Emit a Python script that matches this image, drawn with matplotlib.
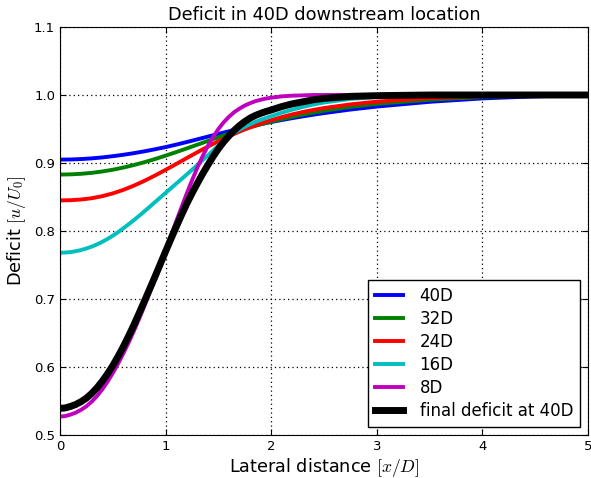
import matplotlib
matplotlib.use('Agg')
import matplotlib.pyplot as plt

# lateral positions x/D (coarse grid for the flat curves, finer for the steep ones)
x_wide = [0.0, 0.1, 0.2, 0.3, 0.4, 0.5, 0.6, 0.7, 0.8, 0.9, 1.0, 1.1, 1.2, 1.3,
          1.4, 1.5, 1.6, 1.7, 1.8, 1.9, 2.0, 2.1, 2.2, 2.3, 2.4, 2.5, 2.75, 3.0,
          3.5, 4.0, 4.5, 5.0]
x_fine = [0.0, 0.05, 0.1, 0.15, 0.2, 0.25, 0.3, 0.35, 0.4, 0.45, 0.5, 0.55, 0.6,
          0.65, 0.7, 0.75, 0.8, 0.85, 0.9, 0.95, 1.0, 1.05, 1.1, 1.15, 1.2, 1.25,
          1.3, 1.35, 1.4, 1.45, 1.5, 1.55, 1.6, 1.65, 1.7, 1.75, 1.8, 1.85, 1.9,
          1.95, 2.0, 2.1, 2.2, 2.3, 2.4, 2.5, 2.75, 3.0, 3.5, 4.0, 4.5, 5.0]

deficit_40D = [0.9050, 0.9052, 0.9058, 0.9068, 0.9082, 0.9100, 0.9121, 0.9145, 0.9172,
               0.9202, 0.9234, 0.9270, 0.9308, 0.9348, 0.9388, 0.9428, 0.9467, 0.9504,
               0.9539, 0.9572, 0.9603, 0.9632, 0.9660, 0.9686, 0.9711, 0.9734, 0.9786,
               0.9830, 0.9900, 0.9950, 0.9980, 1.0000]
deficit_32D = [0.8830, 0.8833, 0.8841, 0.8855, 0.8875, 0.8901, 0.8933, 0.8970, 0.9012,
               0.9058, 0.9108, 0.9160, 0.9214, 0.9269, 0.9324, 0.9378, 0.9430, 0.9479,
               0.9525, 0.9568, 0.9608, 0.9645, 0.9680, 0.9712, 0.9741, 0.9768, 0.9826,
               0.9870, 0.9930, 0.9970, 0.9990, 1.0000]
deficit_24D = [0.8450, 0.8453, 0.8463, 0.8482, 0.8512, 0.8553, 0.8605, 0.8667, 0.8738,
               0.8816, 0.8899, 0.8985, 0.9072, 0.9158, 0.9241, 0.9320, 0.9394, 0.9462,
               0.9524, 0.9580, 0.9630, 0.9675, 0.9715, 0.9750, 0.9781, 0.9808, 0.9862,
               0.9902, 0.9955, 0.9982, 0.9995, 1.0000]
deficit_16D = [0.7680, 0.7683, 0.7690, 0.7703, 0.7720, 0.7743, 0.7770, 0.7803, 0.7840,
               0.7883, 0.7930, 0.7983, 0.8040, 0.8099, 0.8160, 0.8224, 0.8290, 0.8357,
               0.8425, 0.8493, 0.8560, 0.8628, 0.8695, 0.8763, 0.8830, 0.8900, 0.8970,
               0.9040, 0.9110, 0.9185, 0.9260, 0.9328, 0.9390, 0.9443, 0.9490, 0.9533,
               0.9570, 0.9604, 0.9635, 0.9662, 0.9688, 0.9740, 0.9785, 0.9825, 0.9860,
               0.9890, 0.9942, 0.9972, 0.9993, 1.0000, 1.0000, 1.0000]
deficit_8D = [0.5270, 0.5278, 0.5300, 0.5329, 0.5370, 0.5422, 0.5490, 0.5572, 0.5670,
              0.5783, 0.5910, 0.6049, 0.6200, 0.6360, 0.6530, 0.6711, 0.6900, 0.7097,
              0.7300, 0.7509, 0.7720, 0.7930, 0.8140, 0.8346, 0.8550, 0.8744, 0.8930,
              0.9098, 0.9250, 0.9384, 0.9500, 0.9599, 0.9680, 0.9748, 0.9800, 0.9845,
              0.9880, 0.9909, 0.9930, 0.9948, 0.9960, 0.9980, 0.9990, 0.9995, 1.0000,
              1.0000, 1.0000, 1.0000, 1.0000, 1.0000, 1.0000, 1.0000]
deficit_final = [0.5390, 0.5398, 0.5420, 0.5449, 0.5490, 0.5542, 0.5610, 0.5693, 0.5790,
                 0.5899, 0.6020, 0.6155, 0.6300, 0.6456, 0.6620, 0.6793, 0.6970, 0.7149,
                 0.7330, 0.7515, 0.7700, 0.7882, 0.8060, 0.8233, 0.8400, 0.8554, 0.8700,
                 0.8839, 0.8970, 0.9095, 0.9210, 0.9311, 0.9400, 0.9480, 0.9550, 0.9610,
                 0.9660, 0.9699, 0.9730, 0.9757, 0.9780, 0.9830, 0.9870, 0.9900, 0.9930,
                 0.9950, 0.9980, 0.9990, 1.0000, 1.0000, 1.0000, 1.0000]

labels = ['40D', '32D', '24D', '16D', '8D']
colors = ['#0000ff', '#008000', '#ff0000', '#00bfbf', '#bf00bf']

plt.rcParams['mathtext.fontset'] = 'cm'
plt.rcParams['xtick.direction'] = 'in'
plt.rcParams['ytick.direction'] = 'in'
plt.rcParams['xtick.top'] = True
plt.rcParams['ytick.right'] = True

fig = plt.figure(figsize=(5.91, 4.78), dpi=100)
ax = fig.add_axes([0.1015, 0.09, 0.8935, 0.8535])

series = [(x_wide, deficit_40D), (x_wide, deficit_32D), (x_wide, deficit_24D),
          (x_fine, deficit_16D), (x_fine, deficit_8D)]
for (xs, ys), lab, col in zip(series, labels, colors):
    ax.plot(xs, ys, color=col, lw=2.8, label=lab)
ax.plot(x_fine, deficit_final, color='k', lw=5, label='final deficit at 40D')

ax.set_xlim(0, 5)
ax.set_ylim(0.5, 1.1)
ax.set_xticks([0, 1, 2, 3, 4, 5])
ax.set_yticks([0.5, 0.6, 0.7, 0.8, 0.9, 1.0, 1.1])
ax.set_yticklabels(['0.5', '0.6', '0.7', '0.8', '0.9', '1.0', '1.1'])
ax.tick_params(labelsize=9.5, length=4, width=0.8)
ax.grid(True, linestyle=(0, (1, 2.5)), color='k', lw=0.9)

ax.set_title('Deficit in 40D downstream location', fontsize=12.8, pad=5)
ax.set_xlabel('Lateral distance $[x/D]$', fontsize=12.7, labelpad=2)
ax.set_ylabel('Deficit $[u/U_0]$', fontsize=12.7, labelpad=4)

leg = ax.legend(loc='lower right', fontsize=12, fancybox=False, framealpha=1,
                edgecolor='k', handlelength=1.7, handletextpad=1.0,
                labelspacing=0.3)
leg.get_frame().set_linewidth(1.0)

fig.savefig('out.png', dpi=100)
